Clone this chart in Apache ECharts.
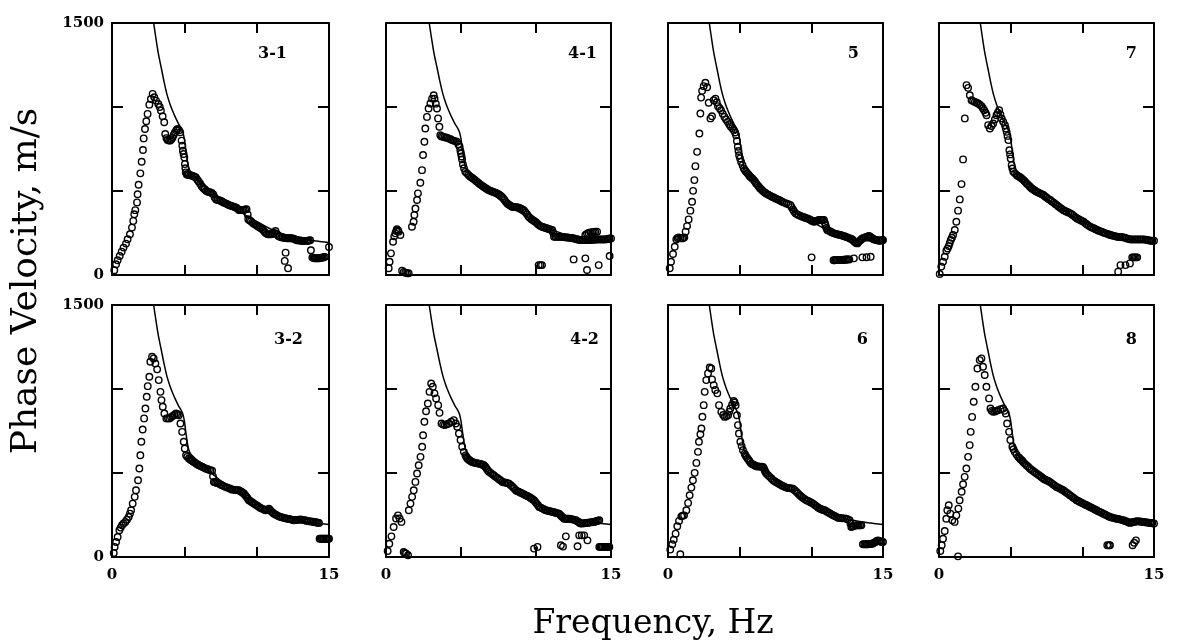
<!DOCTYPE html>
<html><head><meta charset="utf-8">
<script src="https://cdn.jsdelivr.net/npm/echarts@6/dist/echarts.min.js"></script>
<style>html,body{margin:0;padding:0;background:#fff}#c{width:1194px;height:641px}</style>
</head><body><div id="c"></div>
<script>
const xTickLabels=[0,15];
const yTickLabels=[0,1500];
const xMax=15, yMax=1500;
const panelNames=['3-1','4-1','5','7','3-2','4-2','6','8'];
const curveFreq=[2.88,3.0,3.2,3.4,3.6,3.8,4.0,4.2,4.4,4.6,4.8,4.9,5.0,5.1,5.2,5.3,5.45,5.7,6.0,6.5,7.0,7.5,8.0,8.5,9.0,9.5,10,10.5,11,11.5,12,12.5,13,13.5,14,14.5,15];
const curveVel=[1500,1430,1320,1235,1150,1075,1020,975,935,900,870,850,810,745,685,640,612,590,565,528,490,455,425,395,368,342,318,295,272,255,240,228,218,210,204,198,194];

const d31=[[0.16,28],[0.28,64],[0.39,88],[0.53,113],[0.67,139],[0.8,163],[0.97,187],[1.08,213],[1.24,243],[1.38,282],[1.47,322],[1.54,362],[1.61,386],[1.73,432],[1.77,481],[1.84,537],[1.96,605],[2.05,674],[2.14,744],[2.19,813],[2.28,869],[2.37,915],[2.46,959],[2.58,1014],[2.69,1048],[2.81,1078],[2.92,1058],[3.04,1038],[3.2,1018],[3.3,1000],[3.38,979],[3.5,945],[3.61,909],[3.68,839],[3.76,815],[3.84,804],[3.94,800],[4.03,800],[4.11,808],[4.19,819],[4.27,835],[4.35,849],[4.45,862],[4.53,869],[4.63,862],[4.72,849],[4.81,800],[4.86,770],[4.9,740],[4.95,720],[5.0,700],[5.04,660],[5.07,635],[5.1,611],
[5.16,600],[5.22,597],[5.3,596],[5.4,594],[5.5,592],[5.6,590],[5.7,585],[5.8,581],[5.9,567],[6.0,555],[6.1,543],[6.2,528],[6.3,518],[6.4,510],[6.5,502],[6.6,497],[6.7,494],[6.8,491],[6.9,488],[7.0,480],[7.1,462],[7.2,450],[7.3,447],[7.4,445],[7.5,442],[7.6,438],[7.7,432],[7.8,428],[7.9,425],[8.0,420],[8.1,416],[8.2,412],[8.3,410],[8.4,407],[8.5,404],[8.6,400],[8.7,393],[8.8,386],[8.9,386],[9.0,386],[9.1,387],[9.2,390],[9.3,392],[9.38,360],[9.42,332],[9.5,326],[9.6,320],[9.7,312],[9.8,305],[9.9,300],[10.0,295],[10.1,289],[10.2,283],[10.3,278],[10.4,272],[10.5,262],[10.6,252],[10.7,245],[10.8,243],[10.9,243],[11.0,243],[11.1,244],[11.2,252],[11.3,262],[11.4,245],[11.5,232],[11.6,228],[11.7,225],[11.8,223],[11.9,221],[12.0,220],[12.1,219],[12.2,219],[12.3,219],[12.4,219],[12.5,218],[12.6,214],[12.7,210],[12.8,207],[12.9,206],[13.0,205],[13.1,204],[13.2,203],[13.3,203],[13.4,203],[13.5,203],[13.6,205],[13.7,207],
[11.94,84],[12.0,133],[12.17,40],[13.75,147],[13.85,104],[13.93,102],[14.0,100],[14.08,100],[14.16,100],[14.24,100],[14.32,100],[14.4,102],[14.48,103],[14.56,104],[14.64,106],[14.72,108],[15.0,167]];

const d41=[[0.18,40],[0.24,79],[0.33,129],[0.47,198],[0.55,230],[0.62,248],[0.68,262],[0.73,272],[0.8,265],[0.84,258],[0.96,238],
[1.07,26],[1.18,18],[1.29,14],[1.4,10],[1.51,10],
[1.73,287],[1.84,317],[1.89,357],[1.96,396],[2.07,446],[2.13,486],[2.29,549],[2.4,624],[2.47,714],[2.56,793],[2.62,872],[2.73,941],[2.84,991],[2.96,1021],[3.07,1050],[3.18,1070],[3.24,1050],[3.32,1020],[3.4,991],[3.47,932],[3.56,882],[3.62,832],[3.7,825],[3.8,823],[3.9,820],[4.0,818],[4.07,817],[4.2,812],[4.3,808],[4.4,803],[4.5,800],[4.6,797],[4.73,793],[4.82,778],[4.91,763],[4.96,740],[5.0,723],[5.04,705],[5.07,688],[5.13,658],
[5.2,635],[5.29,614],[5.4,605],[5.5,595],[5.6,586],[5.7,580],[5.8,575],[5.9,568],[6.0,560],[6.1,553],[6.2,545],[6.3,538],[6.4,532],[6.5,525],[6.6,519],[6.7,513],[6.8,507],[6.9,503],[7.0,500],[7.1,496],[7.2,493],[7.3,490],[7.4,486],[7.5,481],[7.6,475],[7.7,468],[7.8,458],[7.9,446],[8.0,434],[8.1,424],[8.2,418],[8.3,412],[8.4,406],[8.5,405],[8.6,404],[8.7,403],[8.8,402],[8.9,399],[9.0,395],[9.1,390],[9.2,384],[9.3,373],[9.4,362],[9.5,348],[9.6,340],[9.7,332],[9.8,326],[9.9,320],[10.0,314],[10.1,305],[10.2,297],[10.3,291],[10.4,287],[10.5,284],[10.6,281],[10.7,278],[10.8,275],[10.9,272],[11.0,270],[11.08,268],[11.15,250],[11.2,228],[11.3,228],[11.4,228],[11.5,228],[11.6,228],[11.7,227],[11.8,226],[11.9,225],[12.0,224],[12.1,223],[12.2,222],[12.3,221],[12.4,220],[12.5,218],[12.6,216],[12.7,213],[12.8,211],[12.9,209],[13.0,208],[13.1,208],[13.2,208],[13.3,208],[13.4,208],[13.5,209],[13.6,209],[13.7,210],[13.8,210],[13.9,211],[14.0,211],[14.1,212],[14.2,212],[14.3,212],[14.4,212],[14.5,212],[14.6,212],[14.7,213],[14.8,215],[14.9,217],[15.0,218],
[13.29,238],[13.4,246],[13.5,250],[13.62,254],[13.75,255],[13.85,256],[13.95,257],[14.07,258],
[10.18,59],[10.3,59],[10.4,59],[12.51,93],[13.29,99],[13.4,30],[14.18,59],[14.91,113]];

const d5=[[0.12,40],[0.21,79],[0.35,125],[0.47,168],[0.58,212],[0.66,220],[0.75,224],[0.86,220],[0.98,218],[1.06,220],[1.14,224],[1.23,258],[1.33,291],[1.44,331],[1.56,383],[1.68,436],[1.75,501],[1.84,565],[1.91,648],[2.03,733],[2.19,842],[2.26,961],[2.31,1056],[2.38,1096],[2.49,1124],[2.61,1144],[2.73,1118],[2.84,1025],[2.96,932],[3.07,945],[3.19,1040],[3.31,1050],[3.4,1028],[3.49,1005],[3.6,993],[3.7,981],[3.82,960],[3.94,941],[4.05,926],[4.17,912],[4.27,898],[4.36,886],[4.48,874],[4.59,862],[4.68,848],[4.75,832],[4.81,798],[4.87,763],[4.92,738],[4.96,713],[5.03,694],[5.1,674],
[5.2,654],[5.29,634],[5.37,624],[5.45,615],[5.55,605],[5.64,595],[5.72,587],[5.8,580],[5.9,573],[5.99,565],[6.07,555],[6.15,545],[6.25,535],[6.34,525],[6.42,517],[6.5,510],[6.6,502],[6.69,495],[6.77,490],[6.85,485],[6.95,480],[7.03,476],[7.15,471],[7.25,466],[7.38,461],[7.5,456],[7.62,451],[7.75,446],[7.87,441],[7.97,436],[8.1,431],[8.25,426],[8.4,421],[8.55,416],[8.62,404],[8.72,390],[8.8,378],[8.9,367],[9.0,361],[9.1,357],[9.25,351],[9.38,347],[9.5,344],[9.6,340],[9.72,337],[9.85,332],[9.95,327],[10.05,322],[10.18,317],[10.27,320],[10.35,322],[10.45,325],[10.53,327],[10.62,327],[10.7,327],[10.8,327],[10.88,327],[10.95,310],[11.0,295],[11.05,280],[11.11,268],[11.22,263],[11.35,258],[11.45,253],[11.58,248],[11.7,245],[11.8,243],[11.92,240],[12.05,238],[12.18,234],[12.3,231],[12.4,228],[12.51,224],[12.6,221],[12.7,218],[12.78,215],[12.86,212],[12.95,203],[13.05,195],[13.13,191],[13.21,188],[13.3,196],[13.4,205],[13.48,212],[13.56,218],[13.68,222],[13.8,225],[13.92,229],[14.03,232],[14.12,227],[14.2,222],[14.3,216],[14.38,212],[14.47,210],[14.55,208],[14.65,206],[14.73,204],[14.8,205],[14.88,206],[14.95,207],[15.0,208],
[10.02,105],[11.55,88],[11.63,88],[11.7,89],[11.78,89],[11.86,89],[11.94,89],[12.02,90],[12.1,90],[12.18,90],[12.26,91],[12.34,91],[12.42,92],[12.5,92],[12.58,93],[12.65,93],[12.97,99],[13.56,105],[13.85,106],[14.14,109]];

const d7=[[0.05,6],[0.16,50],[0.28,79],[0.4,109],[0.51,145],[0.6,158],[0.68,172],[0.75,190],[0.82,208],[0.9,222],[0.98,238],[1.1,268],[1.21,317],[1.33,383],[1.45,450],[1.57,541],[1.68,688],[1.8,932],[1.92,1130],[2.03,1114],[2.15,1070],[2.27,1040],[2.38,1035],[2.5,1030],[2.62,1025],[2.73,1021],[2.85,1013],[2.97,1005],[3.06,993],[3.15,981],[3.25,966],[3.32,951],[3.43,892],[3.55,872],[3.66,887],[3.78,902],[3.9,926],[4.01,951],[4.1,966],[4.2,981],[4.28,956],[4.37,932],[4.48,912],[4.6,892],[4.66,872],[4.72,852],[4.78,828],[4.84,803],[4.91,743],[4.96,718],[5.0,694],[5.07,654],[5.12,634],
[5.19,614],[5.3,605],[5.42,595],[5.5,590],[5.6,585],[5.68,580],[5.77,575],[5.86,568],[5.95,560],[6.03,553],[6.12,545],[6.2,538],[6.3,530],[6.38,522],[6.47,515],[6.56,510],[6.65,505],[6.73,500],[6.82,495],[6.93,491],[7.05,486],[7.17,481],[7.29,476],[7.4,468],[7.5,461],[7.63,453],[7.76,446],[7.88,438],[8.0,431],[8.11,423],[8.22,416],[8.33,408],[8.45,401],[8.57,393],[8.69,386],[8.8,381],[8.9,377],[9.03,372],[9.16,367],[9.28,360],[9.4,352],[9.52,344],[9.63,337],[9.74,332],[9.85,327],[9.97,322],[10.09,317],[10.2,309],[10.3,302],[10.43,294],[10.56,287],[10.68,282],[10.8,278],[10.92,273],[11.03,268],[11.14,264],[11.25,260],[11.38,256],[11.5,252],[11.62,248],[11.75,245],[11.86,241],[11.96,238],[12.08,235],[12.2,233],[12.32,230],[12.43,228],[12.54,227],[12.65,226],[12.78,225],[12.9,224],[13.0,221],[13.1,218],[13.23,215],[13.36,212],[13.48,212],[13.6,212],[13.72,212],[13.83,212],[13.94,212],[14.05,212],[14.18,212],[14.3,212],[14.42,210],[14.55,208],[14.66,206],[14.77,204],[14.88,204],[15.0,204],
[12.5,20],[12.66,59],[13.01,59],[13.32,69],[13.48,105],[13.56,105],[13.65,105],[13.74,105],[13.83,105]];

const d32=[[0.12,24],[0.18,60],[0.28,89],[0.39,119],[0.51,159],[0.6,175],[0.69,189],[0.8,200],[0.92,209],[1.03,222],[1.15,238],[1.24,258],[1.32,278],[1.43,318],[1.57,358],[1.66,397],[1.8,457],[1.89,527],[1.96,606],[2.03,686],[2.12,759],[2.22,825],[2.31,884],[2.4,954],[2.47,1017],[2.58,1073],[2.65,1162],[2.77,1192],[2.88,1182],[3.0,1152],[3.12,1117],[3.23,1053],[3.35,983],[3.42,934],[3.51,894],[3.62,854],[3.76,825],[3.87,825],[3.97,825],[4.08,832],[4.2,839],[4.32,847],[4.43,854],[4.53,850],[4.62,844],[4.73,795],[4.85,745],[4.96,686],[5.03,646],[5.12,606],
[5.2,596],[5.31,586],[5.4,581],[5.48,576],[5.56,571],[5.65,566],[5.74,561],[5.82,556],[5.91,551],[6.0,546],[6.11,542],[6.23,537],[6.35,532],[6.46,527],[6.58,524],[6.7,520],[6.81,517],[6.92,513],[6.98,480],[7.04,447],[7.12,445],[7.2,442],[7.3,440],[7.38,437],[7.5,432],[7.6,427],[7.72,422],[7.85,417],[7.97,413],[8.1,409],[8.2,405],[8.31,401],[8.43,400],[8.55,399],[8.66,398],[8.77,397],[8.86,392],[8.95,388],[9.03,383],[9.12,378],[9.21,368],[9.3,358],[9.38,348],[9.46,338],[9.55,333],[9.65,328],[9.73,323],[9.81,318],[9.93,311],[10.05,305],[10.16,298],[10.27,292],[10.36,288],[10.45,285],[10.53,281],[10.62,278],[10.72,282],[10.85,288],[10.92,280],[11.0,273],[11.1,265],[11.19,258],[11.3,253],[11.4,248],[11.52,243],[11.65,238],[11.78,235],[11.9,233],[12.0,230],[12.12,228],[12.24,226],[12.35,224],[12.46,221],[12.58,219],[12.7,220],[12.8,221],[12.92,222],[13.04,223],[13.17,221],[13.3,219],[13.4,217],[13.5,215],[13.62,213],[13.75,212],[13.86,210],[13.96,209],[14.06,207],[14.15,206],[14.23,204],[14.31,203],
[14.35,109],[14.43,109],[14.5,109],[14.58,109],[14.65,109],[14.73,109],[14.8,109],[14.88,109],[14.95,109],[15.0,109]];

const d42=[[0.11,36],[0.22,79],[0.36,123],[0.51,179],[0.67,229],[0.8,248],[0.91,229],[1.03,209],
[1.18,30],[1.26,24],[1.34,20],[1.47,10],
[1.52,278],[1.63,318],[1.74,358],[1.85,397],[1.96,447],[2.07,497],[2.18,546],[2.3,596],[2.41,656],[2.47,725],[2.56,805],[2.67,868],[2.79,914],[2.9,983],[3.01,1033],[3.12,1013],[3.23,974],[3.34,944],[3.48,904],[3.57,858],[3.7,795],[3.81,788],[3.92,785],[4.05,790],[4.19,795],[4.35,805],[4.52,815],[4.65,795],[4.75,775],[4.86,735],[4.97,696],[5.08,656],
[5.19,626],[5.3,605],[5.36,595],[5.42,586],[5.5,580],[5.58,575],[5.66,570],[5.75,566],[5.85,563],[5.95,560],[6.07,558],[6.2,556],[6.28,554],[6.35,552],[6.44,549],[6.53,546],[6.62,537],[6.7,527],[6.78,517],[6.86,507],[6.98,500],[7.1,492],[7.2,485],[7.31,477],[7.43,470],[7.55,462],[7.65,455],[7.76,447],[7.88,444],[8.0,442],[8.1,440],[8.2,437],[8.33,427],[8.45,417],[8.55,407],[8.65,397],[8.75,392],[8.85,388],[8.97,383],[9.09,378],[9.2,373],[9.3,368],[9.42,363],[9.54,358],[9.62,353],[9.7,348],[9.78,343],[9.87,338],[9.96,328],[10.05,318],[10.13,308],[10.21,298],[10.33,293],[10.45,288],[10.55,283],[10.65,278],[10.78,276],[10.9,273],[11.0,271],[11.1,268],[11.2,266],[11.3,263],[11.42,261],[11.54,258],[11.62,250],[11.7,243],[11.79,235],[11.88,228],[11.96,228],[12.05,228],[12.13,228],[12.21,228],[12.33,226],[12.45,223],[12.55,221],[12.66,219],[12.75,213],[12.85,208],[12.92,203],[12.99,199],[13.1,200],[13.2,201],[13.32,202],[13.43,203],[13.54,205],[13.65,206],[13.77,208],[13.88,209],[13.96,211],[14.05,214],[14.13,216],[14.22,219],
[9.87,50],[10.1,60],[11.66,70],[11.8,62],[11.99,123],[12.77,64],[12.88,129],[13.05,129],[13.21,129],[13.43,99],[14.22,60],[14.3,60],[14.38,60],[14.46,60],[14.55,60],[14.63,60],[14.7,60],[14.8,60],[14.89,60],[15.07,103]];

const d6=[[0.16,44],[0.3,76],[0.4,103],[0.53,139],[0.65,183],[0.77,215],[0.93,242],[1.02,246],[1.12,248],[1.28,278],[1.4,322],[1.51,368],[1.63,413],[1.74,457],[1.86,501],[1.98,560],[2.09,626],[2.16,686],[2.26,731],[2.33,765],[2.4,835],[2.49,904],[2.56,983],[2.67,1053],[2.79,1093],[2.91,1128],[3.02,1122],[3.07,1057],[3.19,1023],[3.3,994],[3.44,974],[3.56,904],[3.72,864],[3.85,845],[3.95,834],[4.07,838],[4.19,844],[4.27,864],[4.35,884],[4.47,906],[4.58,929],[4.65,920],[4.72,904],[4.81,844],[4.88,785],[4.95,735],[5.05,686],[5.14,660],
[5.23,636],[5.35,615],[5.41,605],[5.47,596],[5.55,586],[5.64,576],[5.72,566],[5.81,556],[5.9,552],[6.0,548],[6.08,544],[6.16,540],[6.28,539],[6.4,538],[6.52,537],[6.63,536],[6.7,525],[6.75,515],[6.8,506],[6.86,497],[6.98,487],[7.1,477],[7.22,467],[7.33,457],[7.44,451],[7.55,445],[7.67,439],[7.79,433],[7.9,428],[8.0,423],[8.13,418],[8.26,413],[8.38,411],[8.5,410],[8.61,408],[8.72,407],[8.84,398],[8.95,388],[9.07,378],[9.19,368],[9.3,360],[9.4,353],[9.52,345],[9.65,338],[9.78,333],[9.9,328],[10.01,323],[10.12,318],[10.24,310],[10.35,303],[10.47,295],[10.58,288],[10.67,285],[10.75,283],[10.84,280],[10.93,278],[11.04,272],[11.15,266],[11.28,260],[11.4,254],[11.52,249],[11.63,244],[11.75,239],[11.86,234],[12.0,232],[12.15,231],[12.3,230],[12.44,228],[12.55,224],[12.67,219],[12.73,200],[12.79,179],[12.87,182],[12.95,184],[13.05,187],[13.14,189],[13.22,189],[13.3,189],[13.4,189],[13.49,189],
[0.86,16],[13.6,76],[13.7,76],[13.78,76],[13.87,76],[13.95,76],[14.04,77],[14.12,78],[14.21,79],[14.3,80],[14.38,85],[14.47,90],[14.56,95],[14.65,99],[14.74,96],[14.82,92],[14.91,90],[15.0,89]];

const d8=[[0.09,36],[0.19,70],[0.28,109],[0.4,155],[0.51,228],[0.58,278],[0.68,308],[0.79,258],[0.93,219],[1.09,209],[1.21,248],[1.35,288],[1.44,338],[1.58,388],[1.68,433],[1.79,477],[1.91,527],[2.03,596],[2.14,666],[2.21,745],[2.31,834],[2.42,924],[2.54,1013],[2.68,1122],[2.84,1172],[2.96,1182],[3.07,1132],[3.19,1083],[3.31,1013],[3.49,944],[3.59,884],[3.68,870],[3.77,864],[3.9,866],[4.0,870],[4.12,874],[4.3,880],[4.47,884],[4.57,870],[4.66,854],[4.75,795],[4.89,745],[4.98,696],
[5.12,656],[5.2,641],[5.29,626],[5.4,611],[5.52,596],[5.61,589],[5.7,581],[5.79,574],[5.87,566],[5.98,556],[6.1,546],[6.22,537],[6.34,527],[6.45,520],[6.57,512],[6.68,505],[6.8,497],[6.93,490],[7.05,482],[7.16,475],[7.27,467],[7.38,462],[7.5,457],[7.62,452],[7.73,447],[7.85,440],[7.97,432],[8.08,425],[8.2,417],[8.33,412],[8.45,407],[8.56,402],[8.67,397],[8.78,390],[8.9,383],[9.02,376],[9.13,368],[9.25,361],[9.37,353],[9.48,346],[9.6,338],[9.72,333],[9.83,328],[9.95,323],[10.06,318],[10.18,313],[10.3,308],[10.42,303],[10.53,298],[10.65,293],[10.76,288],[10.88,283],[10.99,278],[11.1,273],[11.22,268],[11.34,263],[11.46,258],[11.58,253],[11.7,248],[11.82,243],[11.93,238],[12.05,235],[12.16,233],[12.28,230],[12.39,228],[12.5,226],[12.62,224],[12.74,221],[12.86,219],[12.98,215],[13.1,211],[13.21,207],[13.32,203],[13.44,205],[13.55,208],[13.67,210],[13.79,213],[13.9,212],[14.02,211],[14.14,210],[14.26,209],[14.38,207],[14.5,206],[14.61,204],[14.72,203],[14.8,202],[14.88,201],[15.0,199],
[1.33,4],[11.74,70],[11.85,70],[11.93,70],[13.51,70],[13.62,85],[13.74,99]];

const panelData=[d31,d41,d5,d7,d32,d42,d6,d8];

// layout
const colLeft=[112,386,668,939], colWidth=[217,225,215,215];
const rowTop=[23,305], rowHeight=252;
const labelRight=[287,597,859,1137,303,599,868,1137];
const labelMid=[54,54,54,54,340,340,340,340];
const FONT='"DejaVu Serif", "Liberation Serif", serif';

const grids=[], xAxes=[], yAxes=[], series=[], graphics=[];
const curve=curveFreq.map((f,j)=>[f,curveVel[j]]);
const lineSt={color:'#000',width:2};
for(let i=0;i<8;i++){
  const r=Math.floor(i/4), c=i%4;
  grids.push({left:colLeft[c],top:rowTop[r],width:colWidth[c],height:rowHeight,containLabel:false});
  const xBase={gridIndex:i,type:'value',min:0,max:xMax,interval:5,splitLine:{show:false},
    axisLine:{show:true,onZero:false,lineStyle:lineSt},
    axisTick:{show:true,inside:true,length:10,lineStyle:lineSt}};
  xAxes.push(Object.assign({},xBase,{position:'bottom',
    axisLabel:{show:r===1,margin:11,fontFamily:FONT,fontSize:15,fontWeight:'bold',color:'#000',
      formatter:v=>xTickLabels.includes(v)?String(v):''}}));
  xAxes.push(Object.assign({},xBase,{position:'top',axisLabel:{show:false}}));
  const yBase={gridIndex:i,type:'value',min:0,max:yMax,interval:500,splitLine:{show:false},
    axisLine:{show:true,onZero:false,lineStyle:lineSt},
    axisTick:{show:true,inside:true,length:11,lineStyle:lineSt}};
  yAxes.push(Object.assign({},yBase,{position:'left',
    axisLabel:{show:c===0,margin:8,fontFamily:FONT,fontSize:15,fontWeight:'bold',color:'#000',
      formatter:v=>yTickLabels.includes(v)?String(v):''}}));
  yAxes.push(Object.assign({},yBase,{position:'right',axisLabel:{show:false}}));
  series.push({type:'line',xAxisIndex:2*i,yAxisIndex:2*i,data:curve,showSymbol:false,smooth:0.3,
    lineStyle:{color:'#000',width:1.5},z:2,silent:true,animation:false});
  series.push({type:'scatter',xAxisIndex:2*i,yAxisIndex:2*i,data:panelData[i],symbol:'circle',symbolSize:6.5,
    itemStyle:{color:'rgba(255,255,255,0)',borderColor:'#000',borderWidth:1.4,opacity:1},z:3,silent:true,animation:false});
  graphics.push({type:'text',x:labelRight[i],y:labelMid[i],
    style:{text:panelNames[i],textAlign:'right',textVerticalAlign:'middle',font:'bold 16px '+FONT,fill:'#000'}});
}
graphics.push({type:'text',x:653,y:624,style:{text:'Frequency, Hz',textAlign:'center',textVerticalAlign:'middle',font:'33px '+FONT,fill:'#000'}});
graphics.push({type:'text',x:27,y:281,rotation:Math.PI/2,style:{text:'Phase Velocity, m/s',textAlign:'center',textVerticalAlign:'middle',font:'36px '+FONT,fill:'#000'}});

const chart=echarts.init(document.getElementById('c'),null,{renderer:'canvas'});
chart.setOption({animation:false,backgroundColor:'#fff',grid:grids,xAxis:xAxes,yAxis:yAxes,series:series,graphic:graphics});
</script></body></html>
